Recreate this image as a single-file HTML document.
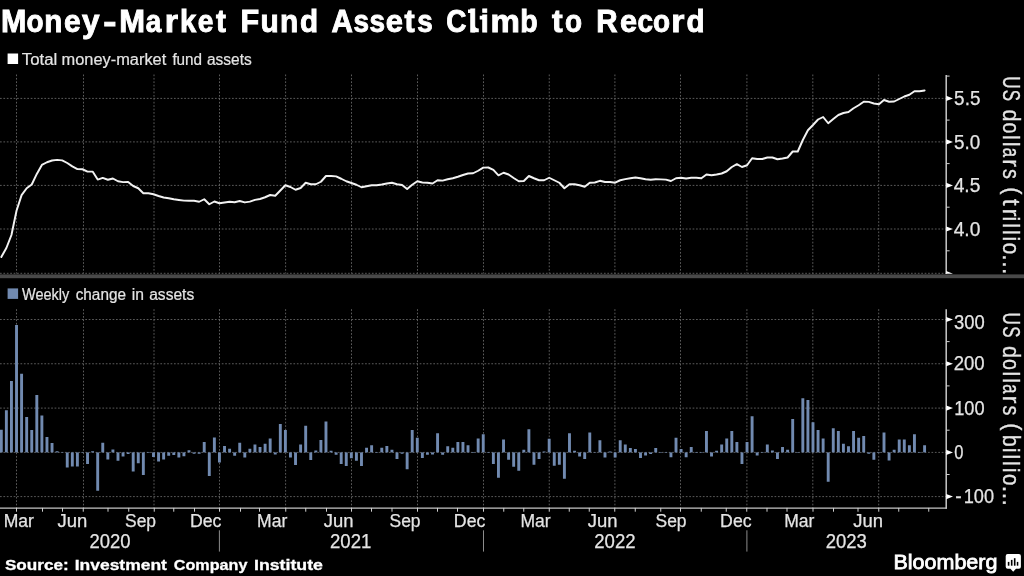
<!DOCTYPE html>
<html><head><meta charset="utf-8"><title>Money-Market Fund Assets Climb to Record</title>
<style>html,body{margin:0;padding:0;background:#000;overflow:hidden}svg{display:block}text{font-family:"Liberation Sans",sans-serif;white-space:pre}</style></head>
<body><svg role="img" aria-label="Money-Market Fund Assets Climb to Record" width="1024" height="576" viewBox="0 0 1024 576" style="will-change:transform">
<g style="filter:opacity(0.999)">
<g stroke="#6a6a6a" stroke-width="0.86" stroke-dasharray="1.706 1.706" fill="none"><line x1="16.5" y1="74.5" x2="16.5" y2="273.5"/><line x1="16.5" y1="309.2" x2="16.5" y2="507.9"/><line x1="83.5" y1="74.5" x2="83.5" y2="273.5"/><line x1="83.5" y1="309.2" x2="83.5" y2="507.9"/><line x1="154" y1="74.5" x2="154" y2="273.5"/><line x1="154" y1="309.2" x2="154" y2="507.9"/><line x1="219.5" y1="74.5" x2="219.5" y2="273.5"/><line x1="219.5" y1="309.2" x2="219.5" y2="507.9"/><line x1="285.6" y1="74.5" x2="285.6" y2="273.5"/><line x1="285.6" y1="309.2" x2="285.6" y2="507.9"/><line x1="351.5" y1="74.5" x2="351.5" y2="273.5"/><line x1="351.5" y1="309.2" x2="351.5" y2="507.9"/><line x1="417.5" y1="74.5" x2="417.5" y2="273.5"/><line x1="417.5" y1="309.2" x2="417.5" y2="507.9"/><line x1="483.5" y1="74.5" x2="483.5" y2="273.5"/><line x1="483.5" y1="309.2" x2="483.5" y2="507.9"/><line x1="549.25" y1="74.5" x2="549.25" y2="273.5"/><line x1="549.25" y1="309.2" x2="549.25" y2="507.9"/><line x1="614.9" y1="74.5" x2="614.9" y2="273.5"/><line x1="614.9" y1="309.2" x2="614.9" y2="507.9"/><line x1="680.5" y1="74.5" x2="680.5" y2="273.5"/><line x1="680.5" y1="309.2" x2="680.5" y2="507.9"/><line x1="746.9" y1="74.5" x2="746.9" y2="273.5"/><line x1="746.9" y1="309.2" x2="746.9" y2="507.9"/><line x1="812.8" y1="74.5" x2="812.8" y2="273.5"/><line x1="812.8" y1="309.2" x2="812.8" y2="507.9"/><line x1="878.7" y1="74.5" x2="878.7" y2="273.5"/><line x1="878.7" y1="309.2" x2="878.7" y2="507.9"/><line x1="0" y1="98.4" x2="946.2" y2="98.4"/><line x1="0" y1="141.9" x2="946.2" y2="141.9"/><line x1="0" y1="185.4" x2="946.2" y2="185.4"/><line x1="0" y1="229.0" x2="946.2" y2="229.0"/><line x1="0" y1="273.3" x2="946.2" y2="273.3"/><line x1="0" y1="319.5" x2="946.2" y2="319.5"/><line x1="0" y1="363.75" x2="946.2" y2="363.75"/><line x1="0" y1="408.1" x2="946.2" y2="408.1"/><line x1="0" y1="452.4" x2="946.2" y2="452.4"/><line x1="0" y1="496.6" x2="946.2" y2="496.6"/></g>
<rect x="0" y="274.4" width="1024" height="3.8" fill="#494949"/>
<g fill="#718ab0"><rect x="-0.15" y="429.75" width="2.9" height="22.65"/><rect x="4.92" y="410.25" width="2.9" height="42.15"/><rect x="10.00" y="381.00" width="2.9" height="71.40"/><rect x="15.07" y="325.00" width="2.9" height="127.40"/><rect x="20.14" y="373.75" width="2.9" height="78.65"/><rect x="25.22" y="417.00" width="2.9" height="35.40"/><rect x="30.29" y="430.00" width="2.9" height="22.40"/><rect x="35.36" y="395.00" width="2.9" height="57.40"/><rect x="40.43" y="415.50" width="2.9" height="36.90"/><rect x="45.51" y="437.00" width="2.9" height="15.40"/><rect x="50.58" y="443.00" width="2.9" height="9.40"/><rect x="55.65" y="451.25" width="2.9" height="1.15"/><rect x="60.73" y="452.00" width="2.9" height="0.40"/><rect x="65.80" y="452.40" width="2.9" height="15.10"/><rect x="70.87" y="452.40" width="2.9" height="14.10"/><rect x="75.94" y="452.40" width="2.9" height="14.10"/><rect x="81.02" y="452.40" width="2.9" height="0.40"/><rect x="86.09" y="452.40" width="2.9" height="11.60"/><rect x="91.16" y="451.25" width="2.9" height="1.15"/><rect x="96.24" y="452.40" width="2.9" height="38.35"/><rect x="101.31" y="442.75" width="2.9" height="9.65"/><rect x="106.38" y="452.40" width="2.9" height="7.10"/><rect x="111.46" y="449.50" width="2.9" height="2.90"/><rect x="116.53" y="452.40" width="2.9" height="8.35"/><rect x="121.60" y="452.40" width="2.9" height="4.10"/><rect x="126.68" y="452.40" width="2.9" height="1.60"/><rect x="131.75" y="452.40" width="2.9" height="19.10"/><rect x="136.82" y="452.40" width="2.9" height="10.85"/><rect x="141.89" y="452.40" width="2.9" height="22.60"/><rect x="146.97" y="452.40" width="2.9" height="0.50"/><rect x="152.04" y="452.40" width="2.9" height="4.60"/><rect x="157.11" y="452.40" width="2.9" height="9.10"/><rect x="162.19" y="452.40" width="2.9" height="7.10"/><rect x="167.26" y="452.40" width="2.9" height="3.35"/><rect x="172.33" y="452.40" width="2.9" height="2.60"/><rect x="177.41" y="452.40" width="2.9" height="5.10"/><rect x="182.48" y="452.40" width="2.9" height="3.85"/><rect x="187.55" y="450.25" width="2.9" height="2.15"/><rect x="192.62" y="452.40" width="2.9" height="1.35"/><rect x="197.70" y="452.40" width="2.9" height="1.35"/><rect x="202.77" y="442.00" width="2.9" height="10.40"/><rect x="207.84" y="452.40" width="2.9" height="23.60"/><rect x="212.92" y="437.50" width="2.9" height="14.90"/><rect x="217.99" y="452.40" width="2.9" height="10.10"/><rect x="223.06" y="446.00" width="2.9" height="6.40"/><rect x="228.14" y="448.75" width="2.9" height="3.65"/><rect x="233.21" y="452.40" width="2.9" height="3.35"/><rect x="238.28" y="442.75" width="2.9" height="9.65"/><rect x="243.35" y="452.40" width="2.9" height="5.10"/><rect x="248.43" y="448.75" width="2.9" height="3.65"/><rect x="253.50" y="444.50" width="2.9" height="7.90"/><rect x="258.57" y="447.00" width="2.9" height="5.40"/><rect x="263.65" y="443.75" width="2.9" height="8.65"/><rect x="268.72" y="438.50" width="2.9" height="13.90"/><rect x="273.79" y="452.40" width="2.9" height="2.10"/><rect x="278.87" y="424.00" width="2.9" height="28.40"/><rect x="283.94" y="430.00" width="2.9" height="22.40"/><rect x="289.01" y="452.40" width="2.9" height="5.10"/><rect x="294.08" y="452.40" width="2.9" height="12.60"/><rect x="299.16" y="444.50" width="2.9" height="7.90"/><rect x="304.23" y="425.75" width="2.9" height="26.65"/><rect x="309.30" y="452.40" width="2.9" height="7.60"/><rect x="314.38" y="450.50" width="2.9" height="1.90"/><rect x="319.45" y="440.00" width="2.9" height="12.40"/><rect x="324.52" y="421.50" width="2.9" height="30.90"/><rect x="329.60" y="450.75" width="2.9" height="1.65"/><rect x="334.67" y="452.40" width="2.9" height="2.35"/><rect x="339.74" y="452.40" width="2.9" height="11.60"/><rect x="344.81" y="452.40" width="2.9" height="13.60"/><rect x="349.89" y="452.40" width="2.9" height="5.85"/><rect x="354.96" y="452.40" width="2.9" height="8.35"/><rect x="360.03" y="452.40" width="2.9" height="13.60"/><rect x="365.11" y="447.75" width="2.9" height="4.65"/><rect x="370.18" y="445.25" width="2.9" height="7.15"/><rect x="375.25" y="452.40" width="2.9" height="0.50"/><rect x="380.33" y="447.75" width="2.9" height="4.65"/><rect x="385.40" y="446.00" width="2.9" height="6.40"/><rect x="390.47" y="449.75" width="2.9" height="2.65"/><rect x="395.54" y="452.40" width="2.9" height="6.60"/><rect x="400.62" y="452.40" width="2.9" height="1.35"/><rect x="405.69" y="452.40" width="2.9" height="16.85"/><rect x="410.76" y="430.00" width="2.9" height="22.40"/><rect x="415.84" y="437.75" width="2.9" height="14.65"/><rect x="420.91" y="452.40" width="2.9" height="5.60"/><rect x="425.98" y="452.40" width="2.9" height="2.35"/><rect x="431.06" y="452.40" width="2.9" height="2.10"/><rect x="436.13" y="433.25" width="2.9" height="19.15"/><rect x="441.20" y="452.40" width="2.9" height="2.35"/><rect x="446.27" y="446.25" width="2.9" height="6.15"/><rect x="451.35" y="447.75" width="2.9" height="4.65"/><rect x="456.42" y="442.00" width="2.9" height="10.40"/><rect x="461.49" y="442.00" width="2.9" height="10.40"/><rect x="466.57" y="445.25" width="2.9" height="7.15"/><rect x="471.64" y="452.40" width="2.9" height="0.60"/><rect x="476.71" y="438.50" width="2.9" height="13.90"/><rect x="481.79" y="434.25" width="2.9" height="18.15"/><rect x="486.86" y="452.40" width="2.9" height="0.50"/><rect x="491.93" y="452.40" width="2.9" height="11.60"/><rect x="497.00" y="452.40" width="2.9" height="25.35"/><rect x="502.08" y="439.50" width="2.9" height="12.90"/><rect x="507.15" y="452.40" width="2.9" height="7.35"/><rect x="512.22" y="452.40" width="2.9" height="14.35"/><rect x="517.30" y="452.40" width="2.9" height="18.35"/><rect x="522.37" y="449.75" width="2.9" height="2.65"/><rect x="527.44" y="429.25" width="2.9" height="23.15"/><rect x="532.51" y="452.40" width="2.9" height="12.35"/><rect x="537.59" y="452.40" width="2.9" height="6.60"/><rect x="542.66" y="451.50" width="2.9" height="0.90"/><rect x="547.73" y="438.75" width="2.9" height="13.65"/><rect x="552.81" y="452.40" width="2.9" height="13.35"/><rect x="557.88" y="452.40" width="2.9" height="12.35"/><rect x="562.95" y="452.40" width="2.9" height="26.35"/><rect x="568.03" y="433.25" width="2.9" height="19.15"/><rect x="573.10" y="450.75" width="2.9" height="1.65"/><rect x="578.17" y="452.40" width="2.9" height="4.10"/><rect x="583.25" y="452.40" width="2.9" height="6.60"/><rect x="588.32" y="432.50" width="2.9" height="19.90"/><rect x="593.39" y="452.00" width="2.9" height="0.40"/><rect x="598.46" y="440.25" width="2.9" height="12.15"/><rect x="603.54" y="452.40" width="2.9" height="5.10"/><rect x="608.61" y="451.50" width="2.9" height="0.90"/><rect x="613.68" y="452.40" width="2.9" height="5.10"/><rect x="618.76" y="440.25" width="2.9" height="12.15"/><rect x="623.83" y="444.50" width="2.9" height="7.90"/><rect x="628.90" y="448.00" width="2.9" height="4.40"/><rect x="633.97" y="449.00" width="2.9" height="3.40"/><rect x="639.05" y="452.40" width="2.9" height="5.60"/><rect x="644.12" y="452.40" width="2.9" height="3.10"/><rect x="649.19" y="452.40" width="2.9" height="1.60"/><rect x="654.27" y="448.00" width="2.9" height="4.40"/><rect x="659.34" y="452.40" width="2.9" height="0.50"/><rect x="664.41" y="452.40" width="2.9" height="0.50"/><rect x="669.49" y="452.40" width="2.9" height="4.85"/><rect x="674.56" y="437.75" width="2.9" height="14.65"/><rect x="679.63" y="449.00" width="2.9" height="3.40"/><rect x="684.70" y="452.40" width="2.9" height="4.85"/><rect x="689.78" y="447.00" width="2.9" height="5.40"/><rect x="694.85" y="452.40" width="2.9" height="0.50"/><rect x="699.92" y="452.40" width="2.9" height="0.50"/><rect x="705.00" y="431.00" width="2.9" height="21.40"/><rect x="710.07" y="452.40" width="2.9" height="4.10"/><rect x="715.14" y="450.75" width="2.9" height="1.65"/><rect x="720.22" y="444.50" width="2.9" height="7.90"/><rect x="725.29" y="438.50" width="2.9" height="13.90"/><rect x="730.36" y="431.00" width="2.9" height="21.40"/><rect x="735.43" y="442.00" width="2.9" height="10.40"/><rect x="740.51" y="452.40" width="2.9" height="11.60"/><rect x="745.58" y="442.00" width="2.9" height="10.40"/><rect x="750.65" y="416.25" width="2.9" height="36.15"/><rect x="755.73" y="452.40" width="2.9" height="3.10"/><rect x="760.80" y="452.40" width="2.9" height="0.50"/><rect x="765.87" y="444.50" width="2.9" height="7.90"/><rect x="770.95" y="450.50" width="2.9" height="1.90"/><rect x="776.02" y="452.40" width="2.9" height="6.60"/><rect x="781.09" y="447.00" width="2.9" height="5.40"/><rect x="786.16" y="449.75" width="2.9" height="2.65"/><rect x="791.24" y="419.00" width="2.9" height="33.40"/><rect x="796.31" y="452.40" width="2.9" height="0.50"/><rect x="801.38" y="398.25" width="2.9" height="54.15"/><rect x="806.46" y="400.00" width="2.9" height="52.40"/><rect x="811.53" y="422.25" width="2.9" height="30.15"/><rect x="816.60" y="430.00" width="2.9" height="22.40"/><rect x="821.68" y="438.50" width="2.9" height="13.90"/><rect x="826.75" y="452.40" width="2.9" height="29.35"/><rect x="831.82" y="428.25" width="2.9" height="24.15"/><rect x="836.89" y="431.00" width="2.9" height="21.40"/><rect x="841.97" y="443.75" width="2.9" height="8.65"/><rect x="847.04" y="446.25" width="2.9" height="6.15"/><rect x="852.11" y="431.00" width="2.9" height="21.40"/><rect x="857.19" y="437.75" width="2.9" height="14.65"/><rect x="862.26" y="436.00" width="2.9" height="16.40"/><rect x="867.33" y="452.40" width="2.9" height="1.35"/><rect x="872.41" y="452.40" width="2.9" height="7.35"/><rect x="877.48" y="452.40" width="2.9" height="0.50"/><rect x="882.55" y="432.50" width="2.9" height="19.90"/><rect x="887.62" y="452.40" width="2.9" height="8.10"/><rect x="892.70" y="449.75" width="2.9" height="2.65"/><rect x="897.77" y="439.50" width="2.9" height="12.90"/><rect x="902.84" y="439.50" width="2.9" height="12.90"/><rect x="907.92" y="445.25" width="2.9" height="7.15"/><rect x="912.99" y="434.25" width="2.9" height="18.15"/><rect x="918.06" y="452.40" width="2.9" height="0.50"/><rect x="923.14" y="445.25" width="2.9" height="7.15"/></g>
<polyline points="1.30,257.00 6.37,248.00 11.45,235.00 16.52,210.75 21.59,195.10 26.67,188.25 31.74,184.50 36.81,173.90 41.88,164.90 46.96,162.25 52.03,160.50 57.10,159.90 62.18,160.40 67.25,163.00 72.32,166.40 77.39,169.10 82.47,169.25 87.54,171.60 92.61,171.60 97.69,179.60 102.76,177.90 107.83,179.75 112.91,178.50 117.98,181.25 123.05,182.10 128.13,182.00 133.20,186.00 138.27,188.25 143.34,193.25 148.42,193.25 153.49,194.25 158.56,196.00 163.64,197.50 168.71,198.30 173.78,199.30 178.86,200.00 183.93,200.60 189.00,200.75 194.07,200.80 199.15,201.75 204.22,199.25 209.29,204.25 214.37,201.50 219.44,203.25 224.51,202.50 229.59,201.75 234.66,202.25 239.73,201.00 244.80,202.40 249.88,201.60 254.95,199.90 260.02,199.00 265.10,197.25 270.17,195.00 275.24,195.75 280.32,190.50 285.39,185.25 290.46,187.00 295.53,189.75 300.61,188.00 305.68,182.75 310.75,184.25 315.83,184.25 320.90,181.75 325.97,176.00 331.05,176.00 336.12,176.40 341.19,178.75 346.26,181.25 351.34,183.00 356.41,184.75 361.48,187.25 366.56,186.25 371.63,185.30 376.70,185.25 381.78,184.50 386.85,183.50 391.92,182.75 396.99,184.25 402.07,185.00 407.14,189.00 412.21,184.75 417.29,181.25 422.36,182.50 427.43,182.75 432.51,183.50 437.58,180.25 442.65,180.60 447.72,179.25 452.80,178.25 457.87,176.75 462.94,175.00 468.02,173.50 473.09,173.25 478.16,170.75 483.24,167.60 488.31,167.50 493.38,169.80 498.45,175.30 503.53,172.75 508.60,174.50 513.67,178.00 518.75,181.25 523.82,181.00 528.89,176.00 533.97,178.25 539.04,180.25 544.11,180.25 549.18,177.75 554.26,180.25 559.33,182.75 564.40,188.25 569.48,184.25 574.55,184.25 579.62,185.25 584.70,186.80 589.77,182.75 594.84,182.50 599.91,180.80 604.99,182.00 610.06,182.00 615.13,182.70 620.21,180.25 625.28,179.10 630.35,178.25 635.42,177.50 640.50,178.25 645.57,179.25 650.64,179.80 655.72,179.30 660.79,179.40 665.86,179.60 670.94,181.00 676.01,178.25 681.08,177.75 686.15,178.50 691.23,177.75 696.30,177.75 701.37,178.20 706.45,174.50 711.52,175.25 716.59,174.50 721.67,173.50 726.74,171.25 731.81,167.00 736.88,164.20 741.96,167.00 747.03,165.25 752.10,158.25 757.18,159.00 762.25,159.00 767.32,157.50 772.40,157.50 777.47,159.25 782.54,158.50 787.62,157.50 792.69,151.50 797.76,151.50 802.83,140.00 807.91,130.25 812.98,125.00 818.05,119.50 823.13,117.00 828.20,123.25 833.27,119.00 838.35,115.00 843.42,113.00 848.49,112.00 853.56,108.25 858.64,105.25 863.71,101.75 868.78,101.90 873.86,103.50 878.93,104.25 884.00,100.00 889.08,101.75 894.15,101.50 899.22,99.00 904.29,96.50 909.37,94.75 914.44,91.25 919.51,91.25 924.59,90.50" fill="none" stroke="#f2f2f2" stroke-width="1.95" stroke-linejoin="round" stroke-linecap="round"/>
<g stroke="#d0d0d0" stroke-width="1.45" fill="none"><line x1="946.2" y1="74.9" x2="946.2" y2="274.1"/><line x1="946.2" y1="309.2" x2="946.2" y2="508.79999999999995"/></g>
<line x1="0" y1="508.2" x2="946.9000000000001" y2="508.2" stroke="#c6c6c6" stroke-width="1.2"/>
<polygon points="946.2,95.80000000000001 953.0,98.4 946.2,101.0" fill="#ffffff"/><polygon points="946.2,139.3 953.0,141.9 946.2,144.5" fill="#ffffff"/><polygon points="946.2,182.8 953.0,185.4 946.2,188.0" fill="#ffffff"/><polygon points="946.2,226.4 953.0,229.0 946.2,231.6" fill="#ffffff"/><line x1="946.2" y1="76.1" x2="949.6" y2="76.1" stroke="#d0d0d0" stroke-width="1"/><line x1="946.2" y1="120.1" x2="949.6" y2="120.1" stroke="#d0d0d0" stroke-width="1"/><line x1="946.2" y1="163.6" x2="949.6" y2="163.6" stroke="#d0d0d0" stroke-width="1"/><line x1="946.2" y1="207.2" x2="949.6" y2="207.2" stroke="#d0d0d0" stroke-width="1"/><line x1="946.2" y1="250.8" x2="949.6" y2="250.8" stroke="#d0d0d0" stroke-width="1"/><polygon points="946.2,270.9 953.0,273.7 946.2,273.7" fill="#ffffff"/><polygon points="946.2,316.9 953.0,319.5 946.2,322.1" fill="#ffffff"/><polygon points="946.2,361.15 953.0,363.75 946.2,366.35" fill="#ffffff"/><polygon points="946.2,405.5 953.0,408.1 946.2,410.70000000000005" fill="#ffffff"/><polygon points="946.2,449.79999999999995 953.0,452.4 946.2,455.0" fill="#ffffff"/><polygon points="946.2,494.0 953.0,496.6 946.2,499.20000000000005" fill="#ffffff"/><line x1="946.2" y1="341.6" x2="949.6" y2="341.6" stroke="#d0d0d0" stroke-width="1"/><line x1="946.2" y1="385.9" x2="949.6" y2="385.9" stroke="#d0d0d0" stroke-width="1"/><line x1="946.2" y1="430.2" x2="949.6" y2="430.2" stroke="#d0d0d0" stroke-width="1"/><line x1="946.2" y1="474.5" x2="949.6" y2="474.5" stroke="#d0d0d0" stroke-width="1"/><line x1="16.5" y1="507.9" x2="16.5" y2="511.7" stroke="#d0d0d0" stroke-width="1"/><line x1="42.5" y1="507.9" x2="42.5" y2="511.7" stroke="#d0d0d0" stroke-width="1"/><line x1="62.5" y1="507.9" x2="62.5" y2="511.7" stroke="#d0d0d0" stroke-width="1"/><line x1="83.25" y1="507.9" x2="83.25" y2="511.7" stroke="#d0d0d0" stroke-width="1"/><line x1="108" y1="507.9" x2="108" y2="511.7" stroke="#d0d0d0" stroke-width="1"/><line x1="128.75" y1="507.9" x2="128.75" y2="511.7" stroke="#d0d0d0" stroke-width="1"/><line x1="154.25" y1="507.9" x2="154.25" y2="511.7" stroke="#d0d0d0" stroke-width="1"/><line x1="173.75" y1="507.9" x2="173.75" y2="511.7" stroke="#d0d0d0" stroke-width="1"/><line x1="194.5" y1="507.9" x2="194.5" y2="511.7" stroke="#d0d0d0" stroke-width="1"/><line x1="219.5" y1="507.9" x2="219.5" y2="511.7" stroke="#d0d0d0" stroke-width="1"/><line x1="240.5" y1="507.9" x2="240.5" y2="511.7" stroke="#d0d0d0" stroke-width="1"/><line x1="259.5" y1="507.9" x2="259.5" y2="511.7" stroke="#d0d0d0" stroke-width="1"/><line x1="285.75" y1="507.9" x2="285.75" y2="511.7" stroke="#d0d0d0" stroke-width="1"/><line x1="305.75" y1="507.9" x2="305.75" y2="511.7" stroke="#d0d0d0" stroke-width="1"/><line x1="326.5" y1="507.9" x2="326.5" y2="511.7" stroke="#d0d0d0" stroke-width="1"/><line x1="351.5" y1="507.9" x2="351.5" y2="511.7" stroke="#d0d0d0" stroke-width="1"/><line x1="371.5" y1="507.9" x2="371.5" y2="511.7" stroke="#d0d0d0" stroke-width="1"/><line x1="392" y1="507.9" x2="392" y2="511.7" stroke="#d0d0d0" stroke-width="1"/><line x1="417.5" y1="507.9" x2="417.5" y2="511.7" stroke="#d0d0d0" stroke-width="1"/><line x1="437.5" y1="507.9" x2="437.5" y2="511.7" stroke="#d0d0d0" stroke-width="1"/><line x1="457.5" y1="507.9" x2="457.5" y2="511.7" stroke="#d0d0d0" stroke-width="1"/><line x1="483.5" y1="507.9" x2="483.5" y2="511.7" stroke="#d0d0d0" stroke-width="1"/><line x1="503.75" y1="507.9" x2="503.75" y2="511.7" stroke="#d0d0d0" stroke-width="1"/><line x1="523.75" y1="507.9" x2="523.75" y2="511.7" stroke="#d0d0d0" stroke-width="1"/><line x1="549.25" y1="507.9" x2="549.25" y2="511.7" stroke="#d0d0d0" stroke-width="1"/><line x1="569.25" y1="507.9" x2="569.25" y2="511.7" stroke="#d0d0d0" stroke-width="1"/><line x1="589.25" y1="507.9" x2="589.25" y2="511.7" stroke="#d0d0d0" stroke-width="1"/><line x1="614.75" y1="507.9" x2="614.75" y2="511.7" stroke="#d0d0d0" stroke-width="1"/><line x1="635.25" y1="507.9" x2="635.25" y2="511.7" stroke="#d0d0d0" stroke-width="1"/><line x1="660.75" y1="507.9" x2="660.75" y2="511.7" stroke="#d0d0d0" stroke-width="1"/><line x1="680.5" y1="507.9" x2="680.5" y2="511.7" stroke="#d0d0d0" stroke-width="1"/><line x1="701.25" y1="507.9" x2="701.25" y2="511.7" stroke="#d0d0d0" stroke-width="1"/><line x1="726.25" y1="507.9" x2="726.25" y2="511.7" stroke="#d0d0d0" stroke-width="1"/><line x1="746.75" y1="507.9" x2="746.75" y2="511.7" stroke="#d0d0d0" stroke-width="1"/><line x1="767" y1="507.9" x2="767" y2="511.7" stroke="#d0d0d0" stroke-width="1"/><line x1="787" y1="507.9" x2="787" y2="511.7" stroke="#d0d0d0" stroke-width="1"/><line x1="813" y1="507.9" x2="813" y2="511.7" stroke="#d0d0d0" stroke-width="1"/><line x1="833.5" y1="507.9" x2="833.5" y2="511.7" stroke="#d0d0d0" stroke-width="1"/><line x1="858" y1="507.9" x2="858" y2="511.7" stroke="#d0d0d0" stroke-width="1"/><line x1="878.75" y1="507.9" x2="878.75" y2="511.7" stroke="#d0d0d0" stroke-width="1"/><line x1="898.75" y1="507.9" x2="898.75" y2="511.7" stroke="#d0d0d0" stroke-width="1"/><line x1="928.75" y1="507.9" x2="928.75" y2="511.7" stroke="#d0d0d0" stroke-width="1"/>
<line x1="219.4" y1="530.3" x2="219.4" y2="551.6" stroke="#8c8c8c" stroke-width="1"/>
<line x1="483.5" y1="530.3" x2="483.5" y2="551.6" stroke="#8c8c8c" stroke-width="1"/>
<line x1="746.9" y1="530.3" x2="746.9" y2="551.6" stroke="#8c8c8c" stroke-width="1"/>
<text transform="translate(3.14,32) scale(0.983,1)" x="-2.07" y="0" font-size="31.0" fill="#ffffff" stroke="#ffffff" stroke-width="0.9" font-weight="bold">M</text>
<text transform="translate(27.57,32) scale(0.900,1)" x="-1.21" y="0" font-size="31.0" fill="#ffffff" stroke="#ffffff" stroke-width="0.9" font-weight="bold">o</text>
<text transform="translate(46.13,32) scale(0.958,1)" x="-2.04" y="0" font-size="31.0" fill="#ffffff" stroke="#ffffff" stroke-width="0.9" font-weight="bold">n</text>
<text transform="translate(65.23,32) scale(0.964,1)" x="-1.21" y="0" font-size="31.0" fill="#ffffff" stroke="#ffffff" stroke-width="0.9" font-weight="bold">e</text>
<text transform="translate(82.26,32) scale(1.015,1)" x="-0.24" y="0" font-size="31.0" fill="#ffffff" stroke="#ffffff" stroke-width="0.9" font-weight="bold">y</text>
<text transform="translate(104.67,32) scale(1.277,1)" x="-1.21" y="0" font-size="31.0" fill="#ffffff" stroke="#ffffff" stroke-width="0.9" font-weight="bold">-</text>
<text transform="translate(121.35,32) scale(0.999,1)" x="-2.07" y="0" font-size="31.0" fill="#ffffff" stroke="#ffffff" stroke-width="0.9" font-weight="bold">M</text>
<text transform="translate(146.64,32) scale(0.900,1)" x="-0.91" y="0" font-size="31.0" fill="#ffffff" stroke="#ffffff" stroke-width="0.9" font-weight="bold">a</text>
<text transform="translate(167.05,32) scale(1.100,1)" x="-2.04" y="0" font-size="31.0" fill="#ffffff" stroke="#ffffff" stroke-width="0.9" font-weight="bold">r</text>
<text transform="translate(181.97,32) scale(0.940,1)" x="-2.16" y="0" font-size="31.0" fill="#ffffff" stroke="#ffffff" stroke-width="0.9" font-weight="bold">k</text>
<text transform="translate(198.81,32) scale(0.907,1)" x="-1.21" y="0" font-size="31.0" fill="#ffffff" stroke="#ffffff" stroke-width="0.9" font-weight="bold">e</text>
<text transform="translate(216.33,32) scale(0.960,1)" x="-0.38" y="0" font-size="31.0" fill="#ffffff" stroke="#ffffff" stroke-width="0.9" font-weight="bold">t</text>
<text transform="translate(242.54,32) scale(0.986,1)" x="-2.07" y="0" font-size="31.0" fill="#ffffff" stroke="#ffffff" stroke-width="0.9" font-weight="bold">F</text>
<text transform="translate(262.23,32) scale(0.964,1)" x="-1.92" y="0" font-size="31.0" fill="#ffffff" stroke="#ffffff" stroke-width="0.9" font-weight="bold">u</text>
<text transform="translate(281.93,32) scale(0.964,1)" x="-2.04" y="0" font-size="31.0" fill="#ffffff" stroke="#ffffff" stroke-width="0.9" font-weight="bold">n</text>
<text transform="translate(301.13,32) scale(0.956,1)" x="-1.27" y="0" font-size="31.0" fill="#ffffff" stroke="#ffffff" stroke-width="0.9" font-weight="bold">d</text>
<text transform="translate(332.23,32) scale(0.954,1)" x="-0.77" y="0" font-size="31.0" fill="#ffffff" stroke="#ffffff" stroke-width="0.9" font-weight="bold">A</text>
<text transform="translate(354.45,32) scale(0.900,1)" x="-1.09" y="0" font-size="31.0" fill="#ffffff" stroke="#ffffff" stroke-width="0.9" font-weight="bold">s</text>
<text transform="translate(370.45,32) scale(0.900,1)" x="-1.09" y="0" font-size="31.0" fill="#ffffff" stroke="#ffffff" stroke-width="0.9" font-weight="bold">s</text>
<text transform="translate(386.95,32) scale(0.996,1)" x="-1.21" y="0" font-size="31.0" fill="#ffffff" stroke="#ffffff" stroke-width="0.9" font-weight="bold">e</text>
<text transform="translate(404.94,32) scale(0.984,1)" x="-0.38" y="0" font-size="31.0" fill="#ffffff" stroke="#ffffff" stroke-width="0.9" font-weight="bold">t</text>
<text transform="translate(418.30,32) scale(0.900,1)" x="-1.09" y="0" font-size="31.0" fill="#ffffff" stroke="#ffffff" stroke-width="0.9" font-weight="bold">s</text>
<text transform="translate(447.28,32) scale(0.900,1)" x="-1.27" y="0" font-size="31.0" fill="#ffffff" stroke="#ffffff" stroke-width="0.9" font-weight="bold">C</text>
<text transform="translate(470.82,32) scale(0.931,1)" x="-2.16" y="0" font-size="31.0" fill="#ffffff" stroke="#ffffff" stroke-width="0.9" font-weight="bold">l</text>
<text transform="translate(482.72,32) scale(0.931,1)" x="-2.16" y="0" font-size="31.0" fill="#ffffff" stroke="#ffffff" stroke-width="0.9" font-weight="bold">i</text>
<text transform="translate(492.78,32) scale(1.065,1)" x="-2.04" y="0" font-size="31.0" fill="#ffffff" stroke="#ffffff" stroke-width="0.9" font-weight="bold">m</text>
<text transform="translate(522.21,32) scale(0.920,1)" x="-2.04" y="0" font-size="31.0" fill="#ffffff" stroke="#ffffff" stroke-width="0.9" font-weight="bold">b</text>
<text transform="translate(552.36,32) scale(1.032,1)" x="-0.38" y="0" font-size="31.0" fill="#ffffff" stroke="#ffffff" stroke-width="0.9" font-weight="bold">t</text>
<text transform="translate(566.02,32) scale(0.900,1)" x="-1.21" y="0" font-size="31.0" fill="#ffffff" stroke="#ffffff" stroke-width="0.9" font-weight="bold">o</text>
<text transform="translate(598.23,32) scale(0.952,1)" x="-2.07" y="0" font-size="31.0" fill="#ffffff" stroke="#ffffff" stroke-width="0.9" font-weight="bold">R</text>
<text transform="translate(621.25,32) scale(0.989,1)" x="-1.21" y="0" font-size="31.0" fill="#ffffff" stroke="#ffffff" stroke-width="0.9" font-weight="bold">e</text>
<text transform="translate(638.52,32) scale(0.900,1)" x="-1.21" y="0" font-size="31.0" fill="#ffffff" stroke="#ffffff" stroke-width="0.9" font-weight="bold">c</text>
<text transform="translate(654.02,32) scale(0.900,1)" x="-1.21" y="0" font-size="31.0" fill="#ffffff" stroke="#ffffff" stroke-width="0.9" font-weight="bold">o</text>
<text transform="translate(673.49,32) scale(1.091,1)" x="-2.04" y="0" font-size="31.0" fill="#ffffff" stroke="#ffffff" stroke-width="0.9" font-weight="bold">r</text>
<text transform="translate(687.63,32) scale(0.956,1)" x="-1.27" y="0" font-size="31.0" fill="#ffffff" stroke="#ffffff" stroke-width="0.9" font-weight="bold">d</text>
<path d="M468.0 9.5H471.5V13.1H468.0Z M474.5 25Q475.3 28.6 478.8 28.6V32.2H472V25Z M479.7 15.7H483.3V19.5H479.7Z" fill="#ffffff"/>
<rect x="7.6" y="53.5" width="10.5" height="10.5" fill="#ffffff"/>
<text x="21.74" y="65.00" font-size="15.6" textLength="35.48" lengthAdjust="spacingAndGlyphs" fill="#e4e4e4" stroke="#e4e4e4" stroke-width="0.2">Total</text>
<text x="61.51" y="65.00" font-size="15.6" textLength="104.76" lengthAdjust="spacingAndGlyphs" fill="#e4e4e4" stroke="#e4e4e4" stroke-width="0.2">money-market</text>
<text x="172.38" y="65.00" font-size="15.6" textLength="29.75" lengthAdjust="spacingAndGlyphs" fill="#e4e4e4" stroke="#e4e4e4" stroke-width="0.2">fund</text>
<text x="206.94" y="65.00" font-size="15.6" textLength="44.77" lengthAdjust="spacingAndGlyphs" fill="#e4e4e4" stroke="#e4e4e4" stroke-width="0.2">assets</text>
<rect x="7.6" y="288.4" width="10.5" height="10.5" fill="#718ab0"/>
<text x="21.94" y="300.00" font-size="15.6" textLength="47.39" lengthAdjust="spacingAndGlyphs" fill="#e4e4e4" stroke="#e4e4e4" stroke-width="0.2">Weekly</text>
<text x="75.70" y="300.00" font-size="15.6" textLength="50.28" lengthAdjust="spacingAndGlyphs" fill="#e4e4e4" stroke="#e4e4e4" stroke-width="0.2">change</text>
<text x="131.80" y="300.00" font-size="15.6" textLength="12.22" lengthAdjust="spacingAndGlyphs" fill="#e4e4e4" stroke="#e4e4e4" stroke-width="0.2">in</text>
<text x="149.19" y="300.00" font-size="15.6" textLength="45.02" lengthAdjust="spacingAndGlyphs" fill="#e4e4e4" stroke="#e4e4e4" stroke-width="0.2">assets</text>
<text x="954.12" y="105.00" font-size="19.6" textLength="26.30" lengthAdjust="spacingAndGlyphs" fill="#e4e4e4" stroke="#e4e4e4" stroke-width="0.25">5.5</text>
<text x="954.12" y="148.50" font-size="19.6" textLength="26.24" lengthAdjust="spacingAndGlyphs" fill="#e4e4e4" stroke="#e4e4e4" stroke-width="0.25">5.0</text>
<text x="953.68" y="192.00" font-size="19.6" textLength="26.75" lengthAdjust="spacingAndGlyphs" fill="#e4e4e4" stroke="#e4e4e4" stroke-width="0.25">4.5</text>
<text x="953.68" y="235.60" font-size="19.6" textLength="26.69" lengthAdjust="spacingAndGlyphs" fill="#e4e4e4" stroke="#e4e4e4" stroke-width="0.25">4.0</text>
<text x="953.92" y="328.60" font-size="19.6" textLength="30.77" lengthAdjust="spacingAndGlyphs" fill="#e4e4e4" stroke="#e4e4e4" stroke-width="0.25">300</text>
<text x="953.69" y="370.40" font-size="19.6" textLength="31.01" lengthAdjust="spacingAndGlyphs" fill="#e4e4e4" stroke="#e4e4e4" stroke-width="0.25">200</text>
<text x="954.23" y="414.70" font-size="19.6" textLength="30.45" lengthAdjust="spacingAndGlyphs" fill="#e4e4e4" stroke="#e4e4e4" stroke-width="0.25">100</text>
<text x="954.23" y="459.20" font-size="19.6" textLength="9.19" lengthAdjust="spacingAndGlyphs" fill="#e4e4e4" stroke="#e4e4e4" stroke-width="0.25">0</text>
<text x="955.26" y="503.40" font-size="19.6" textLength="6.48" lengthAdjust="spacingAndGlyphs" fill="#e4e4e4" stroke="#e4e4e4" stroke-width="0.25">-</text>
<text x="963.74" y="503.40" font-size="19.6" textLength="30.35" lengthAdjust="spacingAndGlyphs" fill="#e4e4e4" stroke="#e4e4e4" stroke-width="0.25">100</text>
<text x="3.68" y="526.75" font-size="18.9" textLength="30.23" lengthAdjust="spacingAndGlyphs" fill="#e4e4e4" stroke="#e4e4e4" stroke-width="0.25">Mar</text>
<text x="57.59" y="526.75" font-size="18.9" textLength="29.74" lengthAdjust="spacingAndGlyphs" fill="#e4e4e4" stroke="#e4e4e4" stroke-width="0.25">Jun</text>
<text x="125.03" y="526.75" font-size="18.9" textLength="31.08" lengthAdjust="spacingAndGlyphs" fill="#e4e4e4" stroke="#e4e4e4" stroke-width="0.25">Sep</text>
<text x="189.97" y="526.75" font-size="18.9" textLength="31.47" lengthAdjust="spacingAndGlyphs" fill="#e4e4e4" stroke="#e4e4e4" stroke-width="0.25">Dec</text>
<text x="257.04" y="526.75" font-size="18.9" textLength="30.23" lengthAdjust="spacingAndGlyphs" fill="#e4e4e4" stroke="#e4e4e4" stroke-width="0.25">Mar</text>
<text x="323.84" y="526.75" font-size="18.9" textLength="29.74" lengthAdjust="spacingAndGlyphs" fill="#e4e4e4" stroke="#e4e4e4" stroke-width="0.25">Jun</text>
<text x="389.53" y="526.75" font-size="18.9" textLength="31.08" lengthAdjust="spacingAndGlyphs" fill="#e4e4e4" stroke="#e4e4e4" stroke-width="0.25">Sep</text>
<text x="453.87" y="526.75" font-size="18.9" textLength="31.47" lengthAdjust="spacingAndGlyphs" fill="#e4e4e4" stroke="#e4e4e4" stroke-width="0.25">Dec</text>
<text x="520.43" y="526.75" font-size="18.9" textLength="30.23" lengthAdjust="spacingAndGlyphs" fill="#e4e4e4" stroke="#e4e4e4" stroke-width="0.25">Mar</text>
<text x="587.84" y="526.75" font-size="18.9" textLength="29.74" lengthAdjust="spacingAndGlyphs" fill="#e4e4e4" stroke="#e4e4e4" stroke-width="0.25">Jun</text>
<text x="655.53" y="526.75" font-size="18.9" textLength="31.08" lengthAdjust="spacingAndGlyphs" fill="#e4e4e4" stroke="#e4e4e4" stroke-width="0.25">Sep</text>
<text x="720.12" y="526.75" font-size="18.9" textLength="31.47" lengthAdjust="spacingAndGlyphs" fill="#e4e4e4" stroke="#e4e4e4" stroke-width="0.25">Dec</text>
<text x="784.18" y="526.75" font-size="18.9" textLength="30.23" lengthAdjust="spacingAndGlyphs" fill="#e4e4e4" stroke="#e4e4e4" stroke-width="0.25">Mar</text>
<text x="853.34" y="526.75" font-size="18.9" textLength="29.74" lengthAdjust="spacingAndGlyphs" fill="#e4e4e4" stroke="#e4e4e4" stroke-width="0.25">Jun</text>
<text x="89.55" y="547.75" font-size="19.6" textLength="41.10" lengthAdjust="spacingAndGlyphs" fill="#e4e4e4" stroke="#e4e4e4" stroke-width="0.25">2020</text>
<text x="329.99" y="547.75" font-size="19.6" textLength="41.29" lengthAdjust="spacingAndGlyphs" fill="#e4e4e4" stroke="#e4e4e4" stroke-width="0.25">2021</text>
<text x="594.24" y="547.75" font-size="19.6" textLength="41.32" lengthAdjust="spacingAndGlyphs" fill="#e4e4e4" stroke="#e4e4e4" stroke-width="0.25">2022</text>
<text x="825.64" y="547.75" font-size="19.6" textLength="41.20" lengthAdjust="spacingAndGlyphs" fill="#e4e4e4" stroke="#e4e4e4" stroke-width="0.25">2023</text>
<text transform="translate(1003.00,77.45) rotate(90) scale(0.794,1.14)" x="-1.66" y="0" font-size="21.5" fill="#e4e4e4" stroke="#e4e4e4" stroke-width="0.3">U</text>
<text transform="translate(1003.00,90.45) rotate(90) scale(0.784,1.14)" x="-0.98" y="0" font-size="21.5" fill="#e4e4e4" stroke="#e4e4e4" stroke-width="0.3">S</text>
<text transform="translate(1003.00,110.45) rotate(90) scale(1.003,1.14)" x="-0.90" y="0" font-size="21.5" fill="#e4e4e4" stroke="#e4e4e4" stroke-width="0.3">d</text>
<text transform="translate(1003.00,123.35) rotate(90) scale(0.916,1.14)" x="-0.90" y="0" font-size="21.5" fill="#e4e4e4" stroke="#e4e4e4" stroke-width="0.3">o</text>
<text transform="translate(1003.00,136.55) rotate(90) scale(1.000,1.14)" x="-1.45" y="0" font-size="21.5" fill="#e4e4e4" stroke="#e4e4e4" stroke-width="0.3">l</text>
<text transform="translate(1003.00,143.25) rotate(90) scale(1.000,1.14)" x="-1.45" y="0" font-size="21.5" fill="#e4e4e4" stroke="#e4e4e4" stroke-width="0.3">l</text>
<text transform="translate(1003.00,148.45) rotate(90) scale(0.779,1.14)" x="-0.91" y="0" font-size="21.5" fill="#e4e4e4" stroke="#e4e4e4" stroke-width="0.3">a</text>
<text transform="translate(1003.00,160.75) rotate(90) scale(1.079,1.14)" x="-1.43" y="0" font-size="21.5" fill="#e4e4e4" stroke="#e4e4e4" stroke-width="0.3">r</text>
<text transform="translate(1003.00,169.55) rotate(90) scale(0.917,1.14)" x="-0.60" y="0" font-size="21.5" fill="#e4e4e4" stroke="#e4e4e4" stroke-width="0.3">s</text>
<text transform="translate(1003.00,188.55) rotate(90) scale(1.000,1.14)" x="-1.33" y="-1.9" font-size="21.5" fill="#e4e4e4" stroke="#e4e4e4" stroke-width="0.3">(</text>
<text transform="translate(1003.00,199.15) rotate(90) scale(1.147,1.14)" x="-0.33" y="0" font-size="21.5" fill="#e4e4e4" stroke="#e4e4e4" stroke-width="0.3">t</text>
<text transform="translate(1003.00,210.15) rotate(90) scale(1.098,1.14)" x="-1.43" y="0" font-size="21.5" fill="#e4e4e4" stroke="#e4e4e4" stroke-width="0.3">r</text>
<text transform="translate(1003.00,218.05) rotate(90) scale(1.000,1.14)" x="-1.44" y="0" font-size="21.5" fill="#e4e4e4" stroke="#e4e4e4" stroke-width="0.3">i</text>
<text transform="translate(1003.00,224.65) rotate(90) scale(1.000,1.14)" x="-1.45" y="0" font-size="21.5" fill="#e4e4e4" stroke="#e4e4e4" stroke-width="0.3">l</text>
<text transform="translate(1003.00,231.35) rotate(90) scale(1.000,1.14)" x="-1.45" y="0" font-size="21.5" fill="#e4e4e4" stroke="#e4e4e4" stroke-width="0.3">l</text>
<text transform="translate(1003.00,238.05) rotate(90) scale(1.000,1.14)" x="-1.44" y="0" font-size="21.5" fill="#e4e4e4" stroke="#e4e4e4" stroke-width="0.3">i</text>
<text transform="translate(1003.00,243.65) rotate(90) scale(0.956,1.14)" x="-0.90" y="0" font-size="21.5" fill="#e4e4e4" stroke="#e4e4e4" stroke-width="0.3">o</text>
<text transform="translate(1003.00,256.35) rotate(90) scale(1.075,1.14)" x="-1.96" y="0" font-size="21.5" fill="#e4e4e4" stroke="#e4e4e4" stroke-width="0.3">.</text>
<text transform="translate(1003.00,263.25) rotate(90) scale(1.075,1.14)" x="-1.96" y="0" font-size="21.5" fill="#e4e4e4" stroke="#e4e4e4" stroke-width="0.3">.</text>
<text transform="translate(1003.00,270.15) rotate(90) scale(1.075,1.14)" x="-1.96" y="0" font-size="21.5" fill="#e4e4e4" stroke="#e4e4e4" stroke-width="0.3">.</text>
<text transform="translate(1003.00,313.90) rotate(90) scale(0.794,1.14)" x="-1.66" y="0" font-size="21.5" fill="#e4e4e4" stroke="#e4e4e4" stroke-width="0.3">U</text>
<text transform="translate(1003.00,326.90) rotate(90) scale(0.784,1.14)" x="-0.98" y="0" font-size="21.5" fill="#e4e4e4" stroke="#e4e4e4" stroke-width="0.3">S</text>
<text transform="translate(1003.00,346.90) rotate(90) scale(1.003,1.14)" x="-0.90" y="0" font-size="21.5" fill="#e4e4e4" stroke="#e4e4e4" stroke-width="0.3">d</text>
<text transform="translate(1003.00,359.80) rotate(90) scale(0.916,1.14)" x="-0.90" y="0" font-size="21.5" fill="#e4e4e4" stroke="#e4e4e4" stroke-width="0.3">o</text>
<text transform="translate(1003.00,373.00) rotate(90) scale(1.000,1.14)" x="-1.45" y="0" font-size="21.5" fill="#e4e4e4" stroke="#e4e4e4" stroke-width="0.3">l</text>
<text transform="translate(1003.00,379.70) rotate(90) scale(1.000,1.14)" x="-1.45" y="0" font-size="21.5" fill="#e4e4e4" stroke="#e4e4e4" stroke-width="0.3">l</text>
<text transform="translate(1003.00,384.90) rotate(90) scale(0.779,1.14)" x="-0.91" y="0" font-size="21.5" fill="#e4e4e4" stroke="#e4e4e4" stroke-width="0.3">a</text>
<text transform="translate(1003.00,397.20) rotate(90) scale(1.079,1.14)" x="-1.43" y="0" font-size="21.5" fill="#e4e4e4" stroke="#e4e4e4" stroke-width="0.3">r</text>
<text transform="translate(1003.00,406.00) rotate(90) scale(0.917,1.14)" x="-0.60" y="0" font-size="21.5" fill="#e4e4e4" stroke="#e4e4e4" stroke-width="0.3">s</text>
<text transform="translate(1003.00,424.55) rotate(90) scale(1.000,1.14)" x="-1.33" y="-1.9" font-size="21.5" fill="#e4e4e4" stroke="#e4e4e4" stroke-width="0.3">(</text>
<text transform="translate(1003.00,436.25) rotate(90) scale(1.003,1.14)" x="-1.39" y="0" font-size="21.5" fill="#e4e4e4" stroke="#e4e4e4" stroke-width="0.3">b</text>
<text transform="translate(1003.00,449.25) rotate(90) scale(1.000,1.14)" x="-1.44" y="0" font-size="21.5" fill="#e4e4e4" stroke="#e4e4e4" stroke-width="0.3">i</text>
<text transform="translate(1003.00,455.95) rotate(90) scale(1.000,1.14)" x="-1.45" y="0" font-size="21.5" fill="#e4e4e4" stroke="#e4e4e4" stroke-width="0.3">l</text>
<text transform="translate(1003.00,462.55) rotate(90) scale(1.000,1.14)" x="-1.45" y="0" font-size="21.5" fill="#e4e4e4" stroke="#e4e4e4" stroke-width="0.3">l</text>
<text transform="translate(1003.00,469.25) rotate(90) scale(1.000,1.14)" x="-1.44" y="0" font-size="21.5" fill="#e4e4e4" stroke="#e4e4e4" stroke-width="0.3">i</text>
<text transform="translate(1003.00,474.85) rotate(90) scale(0.956,1.14)" x="-0.90" y="0" font-size="21.5" fill="#e4e4e4" stroke="#e4e4e4" stroke-width="0.3">o</text>
<text transform="translate(1003.00,487.85) rotate(90) scale(1.075,1.14)" x="-1.96" y="0" font-size="21.5" fill="#e4e4e4" stroke="#e4e4e4" stroke-width="0.3">.</text>
<text transform="translate(1003.00,494.75) rotate(90) scale(1.075,1.14)" x="-1.96" y="0" font-size="21.5" fill="#e4e4e4" stroke="#e4e4e4" stroke-width="0.3">.</text>
<text transform="translate(1003.00,501.65) rotate(90) scale(1.075,1.14)" x="-1.96" y="0" font-size="21.5" fill="#e4e4e4" stroke="#e4e4e4" stroke-width="0.3">.</text>
<text x="4.91" y="569.60" font-size="15.3" textLength="63.79" lengthAdjust="spacingAndGlyphs" fill="#ffffff" stroke="#ffffff" stroke-width="0.3" font-weight="bold">Source:</text>
<text x="74.68" y="569.60" font-size="15.3" textLength="92.28" lengthAdjust="spacingAndGlyphs" fill="#ffffff" stroke="#ffffff" stroke-width="0.3" font-weight="bold">Investment</text>
<text x="173.74" y="569.60" font-size="15.3" textLength="73.70" lengthAdjust="spacingAndGlyphs" fill="#ffffff" stroke="#ffffff" stroke-width="0.3" font-weight="bold">Company</text>
<text x="253.96" y="569.60" font-size="15.3" textLength="68.99" lengthAdjust="spacingAndGlyphs" fill="#ffffff" stroke="#ffffff" stroke-width="0.3" font-weight="bold">Institute</text>
<text x="893.43" y="569.20" font-size="20.9" textLength="104.05" lengthAdjust="spacingAndGlyphs" fill="#ffffff" stroke="#ffffff" stroke-width="0.8">Bloomberg</text>
<path d="M1007.7 554.1h11.2a2 2 0 0 1 2 2v10.6a2 2 0 0 1 -2 2h-2.9l-2.8 3.1l-2.8 -3.1h-2.7a2 2 0 0 1 -2 -2v-10.6a2 2 0 0 1 2 -2z" fill="#ffffff"/>
<g fill="#000"><rect x="1007.8" y="561.9" width="1.6" height="3.8"/><rect x="1010.9" y="559.9" width="1.6" height="5.8"/><rect x="1013.9" y="558.2" width="1.6" height="7.5"/><rect x="1016.8" y="561.9" width="1.5" height="3.8"/></g>
</g></svg></body></html>
